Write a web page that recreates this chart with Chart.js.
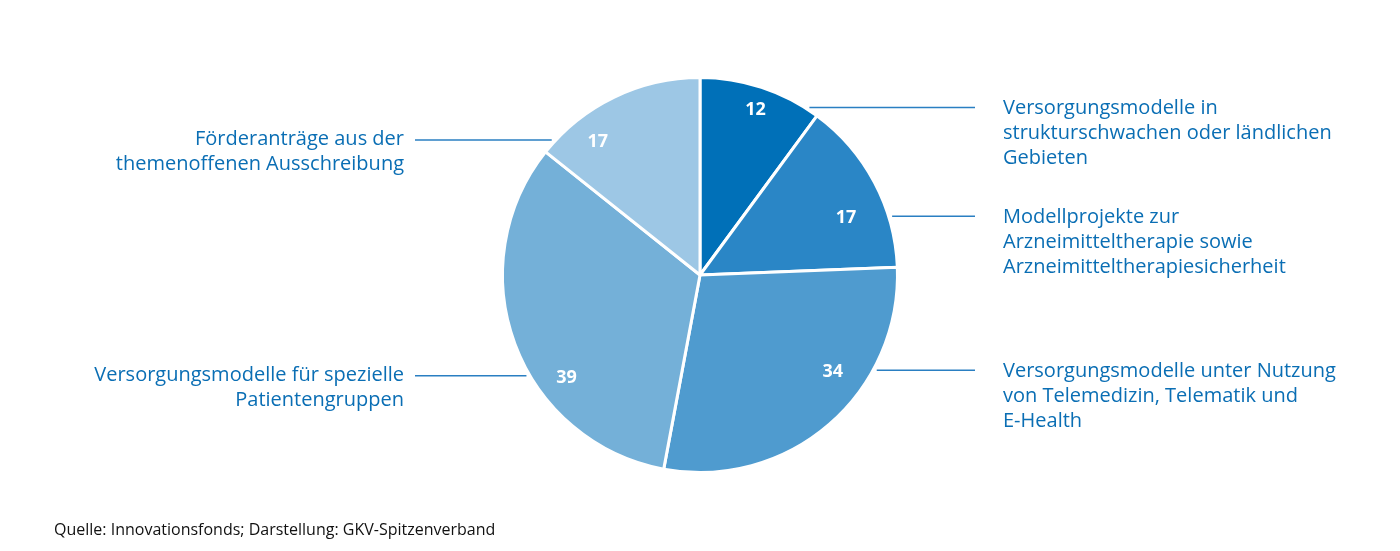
<!DOCTYPE html>
<html lang="de">
<head>
<meta charset="utf-8">
<script src="https://cdn.jsdelivr.net/npm/chart.js@4/dist/chart.umd.min.js"></script>
<style>
  html, body { margin: 0; padding: 0; background: #fff; }
  #wrap { position: relative; width: 1400px; height: 551px; }
  #quelle { position: absolute; left: 54px; top: 518px; font: 16px "Open Sans", sans-serif; color: #111; }
</style>
</head>
<body>
<div id="wrap">
  <canvas id="c"></canvas>
  <div id="quelle">Quelle: Innovationsfonds; Darstellung: GKV-Spitzenverband</div>
</div>
<script>
// Kategorien (mehrzeilig) und Werte
const kategorien = [
  ['Versorgungsmodelle in', 'strukturschwachen oder ländlichen', 'Gebieten'],
  ['Modellprojekte zur', 'Arzneimitteltherapie sowie', 'Arzneimitteltherapiesicherheit'],
  ['Versorgungsmodelle unter Nutzung', 'von Telemedizin, Telematik und', 'E-Health'],
  ['Versorgungsmodelle für spezielle', 'Patientengruppen'],
  ['Förderanträge aus der', 'themenoffenen Ausschreibung']
];
const werte = [12, 17, 34, 39, 17];
const farben = ['#0070b8', '#2a86c6', '#4f9bcf', '#74b0d8', '#9dc7e5'];

// wo die Hinweislinie am Segment ansetzt (Anteil innerhalb des Segments)
const ansatz = [0.90, 0.71, 0.30, 0.415, 0.08];
// Abstand der Zahl vom Rand (waagerecht, nach innen)
const zahlAbstand = [52, 44, 42, 38, 44];

const textFarbe = '#0a6eb4';
const linienFarbe = '#2a7fc2';

// Plugin: Zahlen, Hinweislinien und Beschriftungen
const beschriftung = {
  id: 'beschriftung',
  afterDatasetsDraw(chart) {
    const ctx = chart.ctx;
    const meta = chart.getDatasetMeta(0);
    meta.data.forEach((arc, i) => {
      const p = arc.getProps(['x', 'y', 'startAngle', 'endAngle', 'outerRadius'], true);
      const a = p.startAngle + ansatz[i] * (p.endAngle - p.startAngle);
      const r = p.outerRadius + 1.5;
      const ex = p.x + r * Math.cos(a);
      const ey = p.y + r * Math.sin(a);
      const rechts = Math.cos(a) > 0;

      // Hinweislinie
      ctx.save();
      ctx.strokeStyle = linienFarbe;
      ctx.lineWidth = 1.5;
      ctx.beginPath();
      ctx.moveTo(ex + (rechts ? 2 : -2), ey);
      ctx.lineTo(rechts ? 975 : 415, ey);
      ctx.stroke();

      // Zahl im Segment
      ctx.fillStyle = '#fff';
      ctx.font = 'bold 18px "Open Sans", sans-serif';
      ctx.textAlign = 'center';
      ctx.textBaseline = 'middle';
      ctx.fillText(String(werte[i]), ex + (rechts ? -zahlAbstand[i] : zahlAbstand[i]), ey + 2);

      // Beschriftung
      ctx.fillStyle = textFarbe;
      ctx.font = '20px "Open Sans", sans-serif';
      ctx.textAlign = rechts ? 'left' : 'right';
      const zeilen = chart.data.labels[i];
      const tx = rechts ? 1003 : 404;
      const ty = ey + (rechts ? 1 : -1);
      zeilen.forEach((z, k) => ctx.fillText(z, tx, ty + k * 25));
      ctx.restore();
    });
  }
};

new Chart(document.getElementById('c'), {
  type: 'pie',
  data: {
    labels: kategorien,
    datasets: [{
      data: werte,
      backgroundColor: farben,
      borderColor: '#ffffff',
      borderWidth: 3
    }]
  },
  options: {
    responsive: true,
    maintainAspectRatio: false,
    animation: false,
    layout: { padding: { top: 76, bottom: 77, left: 300, right: 300 } },
    plugins: {
      legend: { display: false },
      tooltip: { enabled: false }
    }
  },
  plugins: [beschriftung]
});
</script>
</body>
</html>
